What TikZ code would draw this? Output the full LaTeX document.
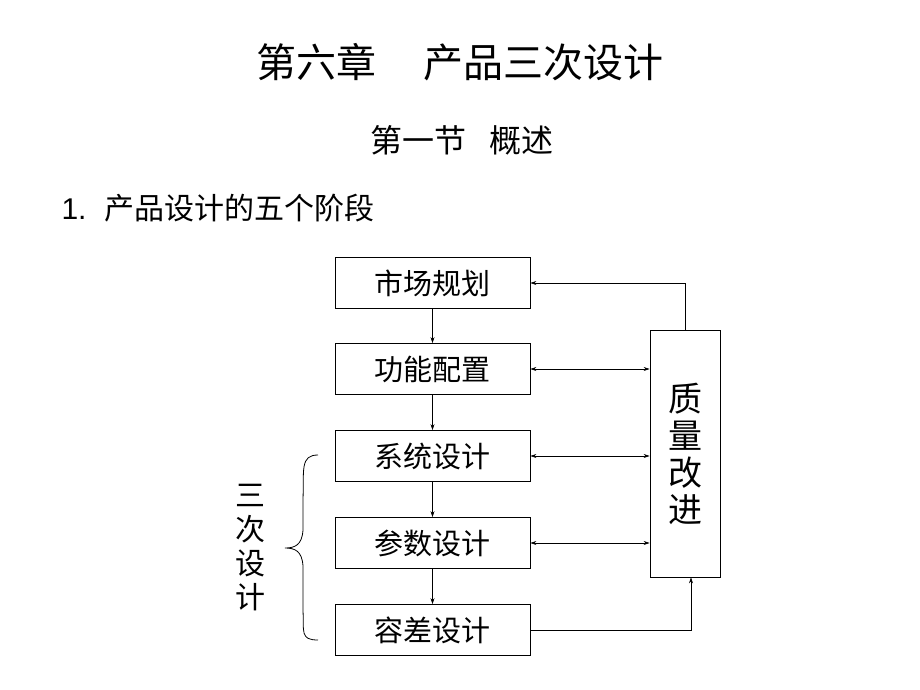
\documentclass[tikz,border=0pt]{standalone}
\usepackage{fontspec}
\setmainfont{Liberation Sans}
\newfontfamily\cjk{Noto Sans CJK SC}
\usetikzlibrary{decorations.pathreplacing,arrows.meta}
\begin{document}
\begin{tikzpicture}[x=1pt,y=-1pt,
  box/.style={draw,line width=0.8pt,minimum width=195pt,minimum height=51pt,inner sep=0pt,font=\cjk\fontsize{29}{32}\selectfont},
  arr/.style={-{Stealth[length=6pt,width=4pt]},line width=0.6pt},
  darr/.style={{Stealth[length=6pt,width=4pt]}-{Stealth[length=6pt,width=4pt]},line width=0.6pt}]
\useasboundingbox (0,0) rectangle (920,690);
\node[font=\cjk\fontsize{40}{44}\selectfont] (t1) at (460,62) {第六章\hspace{1.2em}产品三次设计};
\node[font=\cjk\fontsize{32}{36}\selectfont] (t2) at (462,140) {第一节\hspace{0.7em}概述};
\node[anchor=west,font=\fontsize{30}{34}\selectfont] (t3) at (58,208) {1.\hspace{0.6em}{\cjk 产品设计的五个阶段}};
\node[box] (a) at (432.5,283) {市场规划};
\node[box] (b) at (432.5,369) {功能配置};
\node[box] (c) at (432.5,456) {系统设计};
\node[box] (d) at (432.5,543) {参数设计};
\node[box] (e) at (432.5,630) {容差设计};
\node[draw,line width=0.8pt,minimum width=70pt,minimum height=247pt,inner sep=0pt,align=center,
  font=\cjk\fontsize{34}{37}\selectfont] (q) at (685,453.5) {质\\量\\改\\进};
\foreach \u/\v in {a/b,b/c,c/d,d/e} \draw[arr] (\u.south) -- (\v.north);
\foreach \u in {b,c,d} \draw[darr] (\u.east) -- (\u.east -| q.west);
\draw[arr] (q.north) |- (a.east);
\coordinate (qb) at ([xshift=6pt]q.south);
\draw[arr] (e.east) -| (qb);
\draw[line width=0.8pt] (318,455) .. controls (300,455) and (304,470) .. (303,500)
  -- (303,530) .. controls (302,545) and (295,548) .. (285,548)
  .. controls (295,548) and (302,551) .. (303,566) -- (303,610)
  .. controls (304,632) and (300,640) .. (318,640);
\node[font=\cjk\fontsize{30}{34}\selectfont,align=center] (s) at (250,548) {三\\次\\设\\计};
\end{tikzpicture}
\end{document}
